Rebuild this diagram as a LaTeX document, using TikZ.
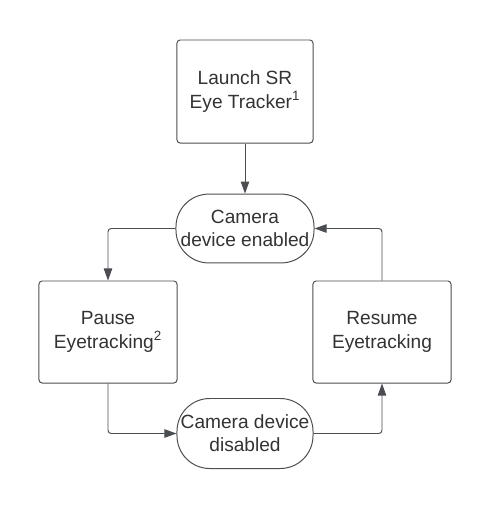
\documentclass[tikz,border=0pt]{standalone}
\usepackage{fontspec}
\setmainfont{Liberation Sans}
\usetikzlibrary{arrows.meta}

\definecolor{linegray}{HTML}{4A4D52}
\definecolor{textgray}{HTML}{333333}

\tikzset{
	stepbox/.style={draw=linegray, line width=0.7pt, rounded corners=0.08cm, fill=white,
		minimum width=3.45cm, minimum height=2.55cm, inner sep=0pt, align=center,
		text=textgray, font=\fontsize{13.6}{16.5}\selectfont},
	statebox/.style={draw=linegray, line width=0.7pt, rounded corners=0.82cm, fill=white,
		minimum width=3.45cm, minimum height=1.72cm, inner sep=0pt, align=center,
		text=textgray, font=\fontsize{13.6}{16.5}\selectfont},
	flow/.style={draw=linegray, line width=0.7pt, rounded corners=0.08cm,
		-{Triangle[length=0.3cm, width=0.21cm]}},
}

\begin{document}
\begin{tikzpicture}[x=0.025cm, y=-0.025cm]
			%%%%% START %%%%%
			
			\useasboundingbox (0, 0) rectangle (490, 509);
			
			\node[stepbox, minimum width=3.4cm, minimum height=2.575cm] (launch) at (245, 91.5) {Launch SR\\Eye Tracker\textsuperscript{1}};
			\node[statebox] (enabled) at (245, 228.5) {Camera\\device enabled};
			
			\node[stepbox] (pause) at (108, 332) {Pause\\Eyetracking\textsuperscript{2}};
			\node[stepbox] (resume) at (382, 332) {Resume\\Eyetracking};
			
			\node[statebox, minimum width=3.4cm, minimum height=1.75cm] (disabled) at (245, 433.5) {Camera device\\disabled};
			
			\draw[flow] (launch.south) -- (enabled.north);
			\draw[flow] (enabled.west) -| (pause.north);
			\draw[flow] (pause.south) |- (disabled.west);
			\draw[flow] (disabled.east) -| (resume.south);
			\draw[flow] (resume.north) |- (enabled.east);
			
			%%%%% END %%%%%
		\end{tikzpicture}
\end{document}
